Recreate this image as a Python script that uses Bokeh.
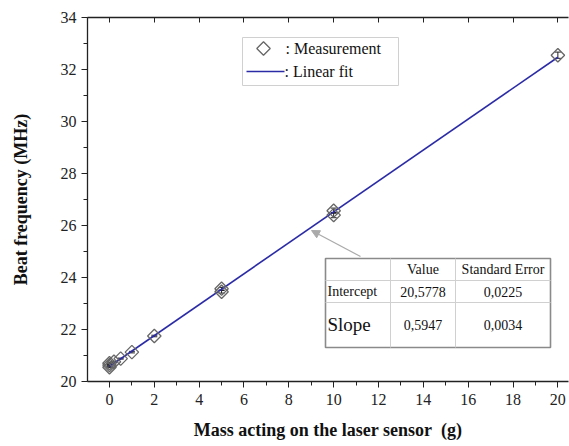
import math
from bokeh.plotting import figure
from bokeh.models import (LinearAxis, Whisker, ColumnDataSource, Arrow, NormalHead, Label,
                          FixedTicker)
from bokeh.embed import file_html
from bokeh.resources import INLINE

# ---- data ----
mass = [0, 0, 0, 0.2, 0.5, 1, 2, 5, 5, 10, 10, 20]
freq = [20.55, 20.63, 20.70, 20.76, 20.88, 21.13, 21.75, 23.45, 23.57, 26.40, 26.57, 32.55]
freq_err = [0.02, 0.02, 0.02, 0.02, 0.02, 0.03, 0.03, 0.05, 0.05, 0.10, 0.10, 0.12]
intercept = 20.5778
slope = 0.5947
fit_x = [0, 20]
fit_y = [intercept + slope * v for v in fit_x]
x_ticks = [0, 2, 4, 6, 8, 10, 12, 14, 16, 18, 20]
y_ticks = [20, 22, 24, 26, 28, 30, 32, 34]
table_header = ["", "Value", "Standard Error"]
table_rows = [["Intercept", "20,5778", "0,0225"], ["Slope", "0,5947", "0,0034"]]
legend_labels = [": Measurement", ": Linear fit"]

SERIF = "Liberation Serif"
W, H = 569, 446
BL, BT, BR = 87, 17, 1
FH = 364
BB = H - BT - FH
PXW = W - BL - BR
X0 = -0.98
X1 = X0 + PXW / 22.42
Y0, Y1 = 20, 34

p = figure(width=W, height=H, output_backend="svg", toolbar_location=None,
           x_range=(X0, X1), y_range=(Y0, Y1),
           min_border_left=BL, min_border_right=BR, min_border_top=BT, min_border_bottom=BB)
p.outline_line_color = None
p.xgrid.visible = False
p.ygrid.visible = False

for ax in (p.xaxis[0], p.yaxis[0]):
    ax.axis_line_color = "#222222"
    ax.axis_line_width = 1.3
    ax.major_tick_line_color = "#222222"
    ax.minor_tick_line_color = "#222222"
    ax.major_tick_out = 6
    ax.major_tick_in = 0
    ax.minor_tick_out = 4
    ax.minor_tick_in = 0
    ax.major_label_text_font = SERIF
    ax.major_label_text_font_size = "16px"
    ax.major_label_text_color = "#222222"
    ax.axis_label_text_font = SERIF
    ax.axis_label_text_font_style = "bold"
    ax.axis_label_text_font_size = "18px"
    ax.axis_label_text_color = "#111111"

p.xaxis[0].ticker = FixedTicker(ticks=x_ticks, minor_ticks=list(range(0, 21)))
p.yaxis[0].ticker = FixedTicker(ticks=y_ticks, minor_ticks=list(range(20, 35)))
p.xaxis[0].axis_label = "Mass acting on the laser sensor\u00a0 (g)"
p.yaxis[0].axis_label = "Beat frequency (MHz)"
p.xaxis[0].axis_label_standoff = 12
p.yaxis[0].axis_label_standoff = 27
p.xaxis[0].major_label_standoff = 6
p.yaxis[0].major_label_standoff = 5

top = LinearAxis(ticker=FixedTicker(ticks=x_ticks, minor_ticks=[]))
top.major_label_text_font_size = "0px"
top.major_label_text_color = None
top.axis_line_color = "#222222"
top.axis_line_width = 1.3
top.major_tick_line_color = "#222222"
top.major_tick_in = 5
top.major_tick_out = 0
top.minor_tick_line_color = None
p.add_layout(top, "above")

# fit line
p.line(fit_x, fit_y, line_color="#2b2ba6", line_width=1.6)

# error bars
src = ColumnDataSource(dict(x=mass, y=freq,
                            lo=[a - b for a, b in zip(freq, freq_err)],
                            hi=[a + b for a, b in zip(freq, freq_err)]))
wh = Whisker(source=src, base="x", lower="lo", upper="hi", line_color="#222222", line_width=1)
wh.upper_head.size = 6
wh.lower_head.size = 6
wh.upper_head.line_color = "#222222"
wh.lower_head.line_color = "#222222"
p.add_layout(wh)

# measurements
p.scatter("x", "y", source=src, marker="square", angle=math.pi / 4, size=9.5,
          fill_color=None, line_color="#666666", line_width=1.3)

# ---- pixel -> data helpers for annotations ----
def dx(px):
    return X0 + (px - BL) / PXW * (X1 - X0)
def dy(py):
    return Y1 - (py - BT) / FH * (Y1 - Y0)

def txt(x, y, s, size, align):
    p.add_layout(Label(x=x, y=y, text=s, text_font=SERIF, text_font_size=size,
                       text_align=align, text_baseline="middle", text_color="#111111"))

# legend box (manual so the marker keeps its diamond shape)
p.quad(left=[dx(242)], right=[dx(398)], top=[dy(37)], bottom=[dy(85)],
       fill_color="white", line_color="#d0d0d0", line_width=1)
p.scatter([dx(263)], [dy(48)], marker="square", angle=math.pi / 4, size=9.5,
          fill_color=None, line_color="#666666", line_width=1.3)
p.segment(x0=[dx(246)], y0=[dy(71)], x1=[dx(284)], y1=[dy(71)],
          line_color="#2b2ba6", line_width=1.6)
txt(dx(285), dy(48), legend_labels[0], "16px", "left")
txt(dx(284), dy(71), legend_labels[1], "16px", "left")

# table
t_left, t_c1, t_c2, t_right = dx(325), dx(390), dx(455), dx(550)
t_top, t_r1, t_r2, t_bot = dy(258), dy(280), dy(302), dy(347)
p.quad(left=[t_left], right=[t_right], top=[t_top], bottom=[t_bot],
       fill_color="white", line_color="#8a8a8a", line_width=1.6)
p.segment(x0=[t_left, t_left, t_c1, t_c2], y0=[t_r1, t_r2, t_top, t_top],
          x1=[t_right, t_right, t_c1, t_c2], y1=[t_r1, t_r2, t_bot, t_bot],
          line_color="#d0d0d0", line_width=1)

row_y = [dy(269), dy(291), dy(324)]
col_c = [dx(327), (t_c1 + t_c2) / 2, (t_c2 + t_right) / 2]
txt(col_c[1], row_y[0], table_header[1], "14px", "center")
txt(col_c[2], row_y[0], table_header[2], "14px", "center")
for i, row in enumerate(table_rows):
    size = "14px" if i == 0 else "19px"
    txt(col_c[0], row_y[i + 1], row[0], size, "left")
    txt(col_c[1], row_y[i + 1], row[1], "14px", "center")
    txt(col_c[2], row_y[i + 1], row[2], "14px", "center")

p.add_layout(Arrow(end=NormalHead(size=8, fill_color="#aaaaaa", line_color="#aaaaaa"),
                   x_start=dx(360), y_start=dy(256), x_end=dx(311), y_end=dy(230),
                   line_color="#aaaaaa", line_width=1.2))

open("out.html", "w").write(file_html(p, INLINE))
